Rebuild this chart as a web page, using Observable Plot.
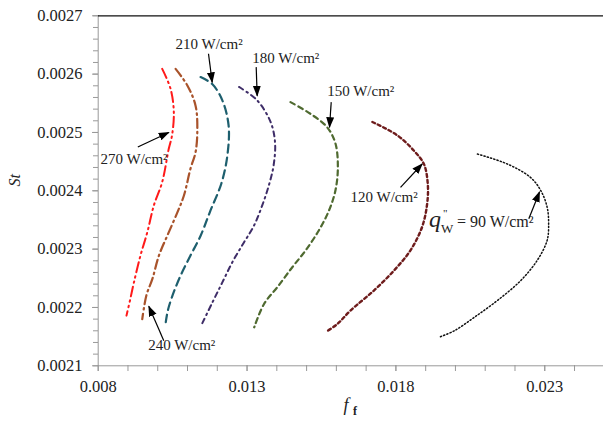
<!DOCTYPE html>
<html><head><meta charset="utf-8">
<script src="https://cdn.jsdelivr.net/npm/d3@7"></script>
<script src="https://cdn.jsdelivr.net/npm/@observablehq/plot@0.6"></script>
<style>
html,body{margin:0;padding:0;background:#fff;overflow:hidden}
svg, svg text, svg g { font-family: "Liberation Serif", "Times New Roman", Tinos, "DejaVu Serif", serif !important; }
</style></head><body><div id="chart"></div>
<script>
// f_f (x) vs St (y) for each wall heat flux
const q270 = [[0.01015,0.002609],[0.01043,0.002575],[0.01054,0.002535],[0.01048,0.002495],[0.01037,0.002472],[0.01015,0.002415],[0.00987,0.002375],[0.00965,0.002329],[0.00942,0.002289],[0.00920,0.002243],[0.00908,0.002215],[0.00895,0.002186]];
const q240 = [[0.01060,0.002609],[0.01099,0.002581],[0.01127,0.002546],[0.01133,0.002506],[0.01127,0.002466],[0.01110,0.002438],[0.01088,0.002392],[0.01066,0.002363],[0.01032,0.002323],[0.01004,0.002289],[0.00982,0.002249],[0.00962,0.002221],[0.00948,0.002180]];
const q210 = [[0.01144,0.002595],[0.01183,0.002583],[0.01217,0.002555],[0.01238,0.002512],[0.01234,0.002461],[0.01214,0.002413],[0.01177,0.002366],[0.01144,0.002323],[0.01110,0.002289],[0.01077,0.002255],[0.01050,0.002221],[0.01034,0.002195],[0.01027,0.002175]];
const q180 = [[0.01273,0.002578],[0.01334,0.002555],[0.01379,0.002518],[0.01394,0.002483],[0.01389,0.002443],[0.01373,0.002409],[0.01351,0.002375],[0.01323,0.002340],[0.01289,0.002311],[0.01251,0.002278],[0.01217,0.002243],[0.01184,0.002209],[0.01145,0.002168]];
const q150 = [[0.01446,0.002552],[0.01513,0.002532],[0.01569,0.002509],[0.01597,0.002481],[0.01605,0.002440],[0.01597,0.002401],[0.01575,0.002366],[0.01541,0.002332],[0.01497,0.002298],[0.01452,0.002269],[0.01402,0.002235],[0.01357,0.002206],[0.01324,0.002166]];
const q120 = [[0.01721,0.002518],[0.01805,0.002495],[0.01860,0.002469],[0.01894,0.002446],[0.01907,0.002412],[0.01905,0.002378],[0.01888,0.002338],[0.01849,0.002298],[0.01793,0.002263],[0.01726,0.002229],[0.01648,0.002195],[0.01604,0.002172],[0.01565,0.002158]];
const q90 = [[0.02074,0.002463],[0.02174,0.002446],[0.02252,0.002423],[0.02286,0.002401],[0.02308,0.002372],[0.02313,0.002343],[0.02308,0.002315],[0.02275,0.002281],[0.02219,0.002246],[0.02141,0.002212],[0.02063,0.002183],[0.01996,0.002160],[0.01945,0.002149]];

const xTicks = [0.008, 0.013, 0.018, 0.023];
const yTicks = [0.0021, 0.0022, 0.0023, 0.0024, 0.0025, 0.0026, 0.0027];

const labels = [
  {text: "270 W/cm²", x: 0.008077, y: 0.002455},
  {text: "240 W/cm²", x: 0.009680, y: 0.002136},
  {text: "210 W/cm²", x: 0.010597, y: 0.002652},
  {text: "180 W/cm²", x: 0.013173, y: 0.002628},
  {text: "150 W/cm²", x: 0.015692, y: 0.002570},
  {text: "120 W/cm²", x: 0.016475, y: 0.002389}
];
const qLabel = [{x: 0.019108, y: 0.002347}];
const arrows = [
  {x1: 0.009330, y1: 0.002475, x2: 0.010372, y2: 0.002500},
  {x1: 0.010204, y1: 0.002143, x2: 0.009700, y2: 0.002202},
  {x1: 0.011705, y1: 0.002635, x2: 0.011829, y2: 0.002586},
  {x1: 0.013307, y1: 0.002612, x2: 0.013341, y2: 0.002563},
  {x1: 0.015827, y1: 0.002552, x2: 0.015770, y2: 0.002509},
  {x1: 0.018155, y1: 0.002406, x2: 0.018883, y2: 0.002446},
  {x1: 0.022464, y1: 0.002352, x2: 0.022824, y2: 0.002398}
];

const styles = [
  {d: q270, stroke: "#ff1a1a", dash: "10,4,1.5,4,1.5,4", w: 2},
  {d: q240, stroke: "#a9532b", dash: "9,4,1.5,4", w: 2.2},
  {d: q210, stroke: "#1e5f6e", dash: "8,5", w: 2.2},
  {d: q180, stroke: "#3e2d68", dash: "5,4,1.5,4", w: 2},
  {d: q150, stroke: "#4f6a30", dash: "5,4", w: 2.2},
  {d: q120, stroke: "#6e1c1c", dash: "3,3", w: 2.4},
  {d: q90, stroke: "#111", dash: "1.2,2.2", w: 1.5}
];

const font = "'Liberation Serif','Times New Roman',serif";
const xMinor = d3.range(8, 26).map(v => v / 1000);
const yMinor = d3.range(105, 136).map(v => v / 50000);

const lines = styles.map(s => Plot.line(s.d, {
  x: d => d[0], y: d => d[1], curve: "catmull-rom",
  stroke: s.stroke, strokeWidth: s.w, strokeDasharray: s.dash
}));

const plot = Plot.plot({
  width: 603, height: 421,
  marginTop: 15, marginBottom: 56, marginLeft: 98, marginRight: 0,
  style: {fontFamily: font, fontSize: "16px", background: "#fff", overflow: "visible"},
  x: {domain: [0.008, 0.025], range: [97.7, 603.8], label: null},
  y: {domain: [0.0021, 0.0027], range: [365.3, 15.3], label: null},
  marks: [
    Plot.axisY(yMinor, {tickSize: 5, tickFormat: () => "", stroke: "#999", label: null}),
    Plot.axisY(yTicks, {tickSize: 6, tickPadding: 10, tickFormat: d3.format(".4f"), stroke: "#999", fill: "#222", fontSize: 16.5, label: null}),
    Plot.axisX(xMinor, {tickSize: 6, tickFormat: () => "", stroke: "#999", label: null}),
    Plot.axisX(xTicks, {tickSize: 6, tickPadding: 9, tickFormat: d3.format(".3f"), stroke: "#999", fill: "#222", fontSize: 16.5, label: null}),
    Plot.ruleX([0.008], {stroke: "#999"}),
    Plot.ruleY([0.0021], {stroke: "#999"}),
    Plot.ruleY([0.0027], {stroke: "#111", strokeWidth: 1.3}),
    ...lines,
    Plot.link(arrows, {x1: "x1", y1: "y1", x2: "x2", y2: "y2", stroke: "#000", strokeWidth: 1.2, markerEnd: "arrow"}),
    Plot.text(labels, {x: "x", y: "y", text: "text", textAnchor: "start", lineAnchor: "middle", fontSize: 15, fill: "#222"}),
    Plot.text(qLabel, {x: "x", y: "y", text: () => "q", textAnchor: "start", lineAnchor: "middle", fontSize: 24, fontStyle: "italic", fill: "#222", dy: -2}),
    Plot.text(qLabel, {x: "x", y: "y", text: () => "W", textAnchor: "start", lineAnchor: "middle", fontSize: 13, fill: "#222", dx: 12, dy: 7}),
    Plot.text(qLabel, {x: "x", y: "y", text: () => "\"", textAnchor: "start", lineAnchor: "middle", fontSize: 11, fill: "#222", dx: 14, dy: -8}),
    Plot.text(qLabel, {x: "x", y: "y", text: () => "= 90 W/cm²", textAnchor: "start", lineAnchor: "middle", fontSize: 16, fill: "#222", dx: 28}),
    Plot.text(["St"], {frameAnchor: "left", dx: -84, dy: -4, rotate: -90, fontStyle: "italic", fontSize: 16, fill: "#222", lineAnchor: "middle"}),
    Plot.text(["f"], {frameAnchor: "bottom", dx: -5, dy: 40, fontStyle: "italic", fontSize: 18, fill: "#222", lineAnchor: "middle"}),
    Plot.text(["f"], {frameAnchor: "bottom", dx: 4, dy: 46, fontWeight: "bold", fontSize: 12, fill: "#222", lineAnchor: "middle"})
  ]
});

plot.querySelectorAll("marker").forEach(m => {
  m.setAttribute("viewBox", "-10 -5 11 10");
  m.setAttribute("markerWidth", "11");
  m.setAttribute("markerHeight", "10");
  m.setAttribute("markerUnits", "userSpaceOnUse");
  m.setAttribute("fill", "#000");
  m.setAttribute("stroke", "none");
  m.querySelectorAll("path").forEach(p => {
    p.setAttribute("d", "M-10,-4L1,0L-10,4Z");
    p.setAttribute("fill", "#000");
    p.setAttribute("stroke", "none");
  });
});

document.getElementById("chart").appendChild(plot);
</script></body></html>
